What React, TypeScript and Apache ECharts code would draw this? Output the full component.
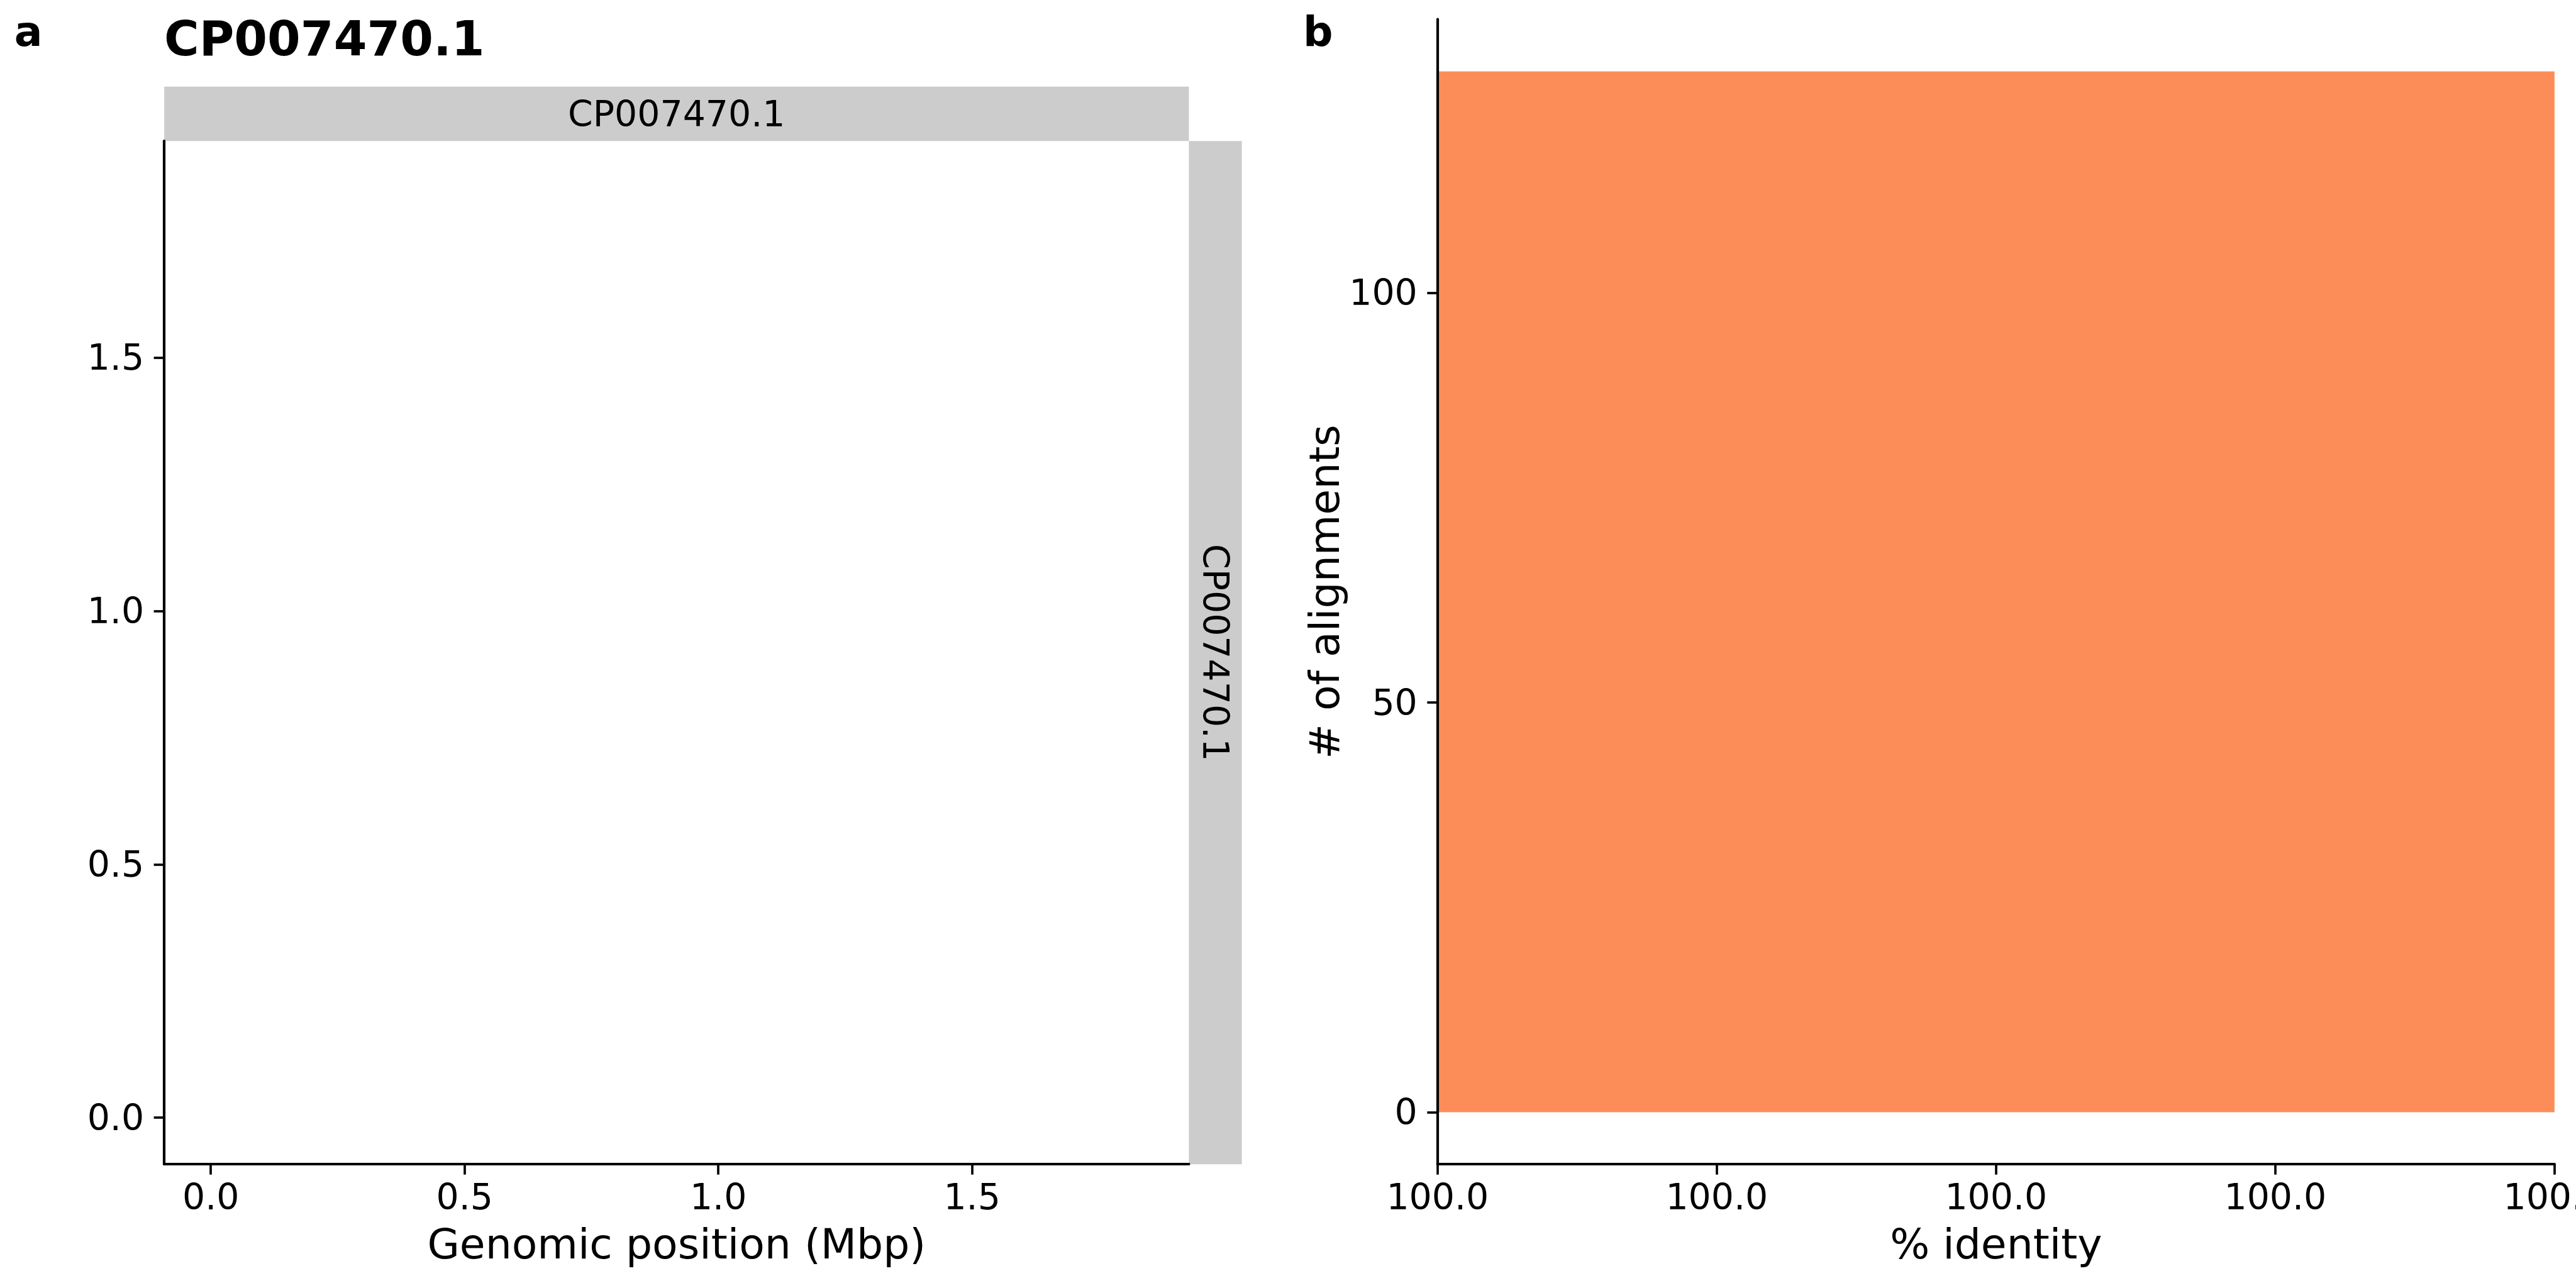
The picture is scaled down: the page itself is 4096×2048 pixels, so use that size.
import React, { useEffect, useRef } from "react";
import * as echarts from "echarts";

// ---- data ----
const contigNames = ["CP007470.1"];
const genomeLengthMbp = [1.8355];
const alignments: number[][] = []; // no alignment dots in panel a
const positionTicksMbp = [0, 0.5, 1.0, 1.5];
const identityBinEdges = [99.5, 100.5];
const identityCounts = [127];
const identityTickValues = [99.5, 99.75, 100, 100.25, 100.5];
const identityTickLabels = ["100.0", "100.0", "100.0", "100.0", "100.0"];
const countTicks = [0, 50, 100];

const S = 4096 / 7200;
const FONT = "DejaVu Sans";
const BAR_COLOR = "#fc8d59";
const STRIP_COLOR = "#cccccc";

const tickFs = 100 * S;
const labelFs = 116.67 * S;
const titleFs = 133.33 * S;

export default function App() {
  const ref = useRef<HTMLDivElement>(null);
  useEffect(() => {
    if (!ref.current) return;
    const chart = echarts.init(ref.current, undefined, { renderer: "svg" });
    const L = genomeLengthMbp[0];
    const posMin = -0.05 * L;
    const posMax = 1.05 * L;
    const maxCount = Math.max(...identityCounts);
    const cMin = -0.05 * maxCount;
    const cMax = 1.05 * maxCount;

    const g0 = { left: 459 * S, top: 394 * S, right: 3323 * S, bottom: 3254 * S };
    const g1 = { left: 4018 * S, top: 54 * S, right: 7140 * S, bottom: 3254 * S };

    const axisLine = { show: true, onZero: false, lineStyle: { color: "#000", width: 4.2 } };
    const axisTick = (vals: number[]) => ({
      show: true,
      length: 29 * S,
      inside: false,
      customValues: vals,
      lineStyle: { color: "#000", width: 3.7 },
    });
    const baseLabel = {
      color: "#000",
      fontFamily: FONT,
      fontSize: tickFs,
    };

    const option: any = {
      animation: false,
      backgroundColor: "#ffffff",
      grid: [
        { left: g0.left, top: g0.top, width: g0.right - g0.left, height: g0.bottom - g0.top, containLabel: false, outerBoundsMode: "none" },
        { left: g1.left, top: g1.top, width: g1.right - g1.left, height: g1.bottom - g1.top, containLabel: false, outerBoundsMode: "none" },
      ],
      xAxis: [
        {
          type: "value",
          gridIndex: 0,
          min: posMin,
          max: posMax,
          z: 5,
          axisLine,
          axisTick: axisTick(positionTicksMbp),
          splitLine: { show: false },
          axisLabel: {
            ...baseLabel,
            margin: 23,
            customValues: positionTicksMbp,
            formatter: (v: number) => v.toFixed(1),
          },
          name: "Genomic position (Mbp)",
          nameLocation: "middle",
          nameGap: 94,
          nameTextStyle: { color: "#000", fontFamily: FONT, fontSize: labelFs },
        },
        {
          type: "value",
          gridIndex: 1,
          min: identityBinEdges[0],
          max: identityBinEdges[identityBinEdges.length - 1],
          z: 5,
          axisLine,
          axisTick: axisTick(identityTickValues),
          splitLine: { show: false },
          axisLabel: {
            ...baseLabel,
            margin: 23,
            showMaxLabel: true,
            showMinLabel: true,
            hideOverlap: false,
            customValues: identityTickValues,
            formatter: (v: number) => {
              let idx = 0;
              let best = Infinity;
              identityTickValues.forEach((t, i) => {
                const d = Math.abs(t - v);
                if (d < best) { best = d; idx = i; }
              });
              return identityTickLabels[idx];
            },
          },
          name: "% identity",
          nameLocation: "middle",
          nameGap: 94,
          nameTextStyle: { color: "#000", fontFamily: FONT, fontSize: labelFs },
        },
      ],
      yAxis: [
        {
          type: "value",
          gridIndex: 0,
          min: posMin,
          max: posMax,
          z: 5,
          axisLine,
          axisTick: axisTick(positionTicksMbp),
          splitLine: { show: false },
          axisLabel: {
            ...baseLabel,
            margin: 32,
            customValues: positionTicksMbp,
            formatter: (v: number) => v.toFixed(1),
          },
        },
        {
          type: "value",
          gridIndex: 1,
          min: cMin,
          max: cMax,
          z: 5,
          axisLine,
          axisTick: axisTick(countTicks),
          splitLine: { show: false },
          axisLabel: {
            ...baseLabel,
            margin: 32,
            customValues: countTicks,
            formatter: (v: number) => String(Math.round(v)),
          },
          name: "# of alignments",
          nameLocation: "middle",
          nameRotate: 90,
          nameGap: 147,
          nameTextStyle: { color: "#000", fontFamily: FONT, fontSize: labelFs },
        },
      ],
      series: [
        {
          type: "scatter",
          xAxisIndex: 0,
          yAxisIndex: 0,
          data: alignments,
          symbolSize: 6,
          itemStyle: { color: "#000" },
        },
        {
          type: "custom",
          xAxisIndex: 1,
          yAxisIndex: 1,
          z: 1,
          encode: { x: [0, 1], y: 2 },
          data: identityCounts.map((c, i) => [identityBinEdges[i], identityBinEdges[i + 1], c]),
          renderItem: (_params: any, api: any) => {
            const p0 = api.coord([api.value(0), api.value(2)]);
            const p1 = api.coord([api.value(1), 0]);
            return {
              type: "rect",
              shape: { x: p0[0], y: p0[1], width: p1[0] - p0[0], height: p1[1] - p0[1] },
              style: { fill: BAR_COLOR },
            };
          },
        },
      ],
      graphic: [
        // top strip
        {
          type: "rect",
          shape: { x: g0.left, y: 242 * S, width: g0.right - g0.left, height: g0.top - 242 * S },
          style: { fill: STRIP_COLOR },
          silent: true,
        },
        {
          type: "text",
          x: (g0.left + g0.right) / 2,
          y: (242 * S + g0.top) / 2,
          style: {
            text: contigNames[0],
            fill: "#000",
            font: `${tickFs}px "${FONT}"`,
            align: "center",
            verticalAlign: "middle",
          },
        },
        // right strip
        {
          type: "rect",
          shape: { x: g0.right, y: g0.top, width: 3471 * S - g0.right, height: g0.bottom - g0.top },
          style: { fill: STRIP_COLOR },
          silent: true,
        },
        {
          type: "text",
          x: (g0.right + 3471 * S) / 2,
          y: (g0.top + g0.bottom) / 2,
          rotation: -Math.PI / 2,
          style: {
            text: contigNames[0],
            fill: "#000",
            font: `${tickFs}px "${FONT}"`,
            align: "center",
            verticalAlign: "middle",
          },
        },
        // title
        {
          type: "text",
          x: g0.left,
          y: 155 * S - 0.346 * titleFs,
          style: {
            text: contigNames[0],
            fill: "#000",
            font: `bold ${titleFs}px "${FONT}"`,
            align: "left",
            verticalAlign: "middle",
          },
        },
        // panel labels
        {
          type: "text",
          x: 40 * S,
          y: 128 * S - 0.346 * labelFs,
          style: {
            text: "a",
            fill: "#000",
            font: `bold ${labelFs}px "${FONT}"`,
            align: "left",
            verticalAlign: "middle",
          },
        },
        {
          type: "text",
          x: 3642 * S,
          y: 129 * S - 0.346 * labelFs,
          style: {
            text: "b",
            fill: "#000",
            font: `bold ${labelFs}px "${FONT}"`,
            align: "left",
            verticalAlign: "middle",
          },
        },
      ],
    };
    chart.setOption(option);
    return () => chart.dispose();
  }, []);

  return (
    <div
      ref={ref}
      style={{ position: "fixed", left: 0, top: 0, width: 4096, height: 2048, background: "#fff" }}
    />
  );
}
